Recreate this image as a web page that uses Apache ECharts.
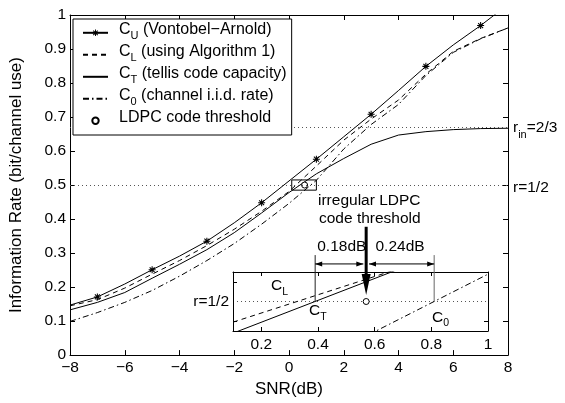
<!DOCTYPE html>
<html><head><meta charset="utf-8">
<script src="https://cdn.jsdelivr.net/npm/echarts@6/dist/echarts.min.js"></script>
<style>html,body{margin:0;padding:0;background:#fff}#c{width:565px;height:403px}</style>
</head><body><div id="c"></div>
<script>
// ---------------- data ----------------
const snrDb       = [-8, -7, -6, -5, -4, -3, -2, -1, 0, 1, 2, 3, 4, 5, 6, 7, 8];
const capUpper    = [0.147,0.171,0.209,0.251,0.291,0.335,0.389,0.448,0.512,0.576,0.642,0.708,0.778,0.849,0.912,0.969,1.031];
const capLower    = [0.145,0.163,0.197,0.238,0.278,0.322,0.370,0.423,0.481,0.556,0.632,0.694,0.750,0.826,0.893,0.931,0.962];
const capTrellis  = [0.133,0.155,0.184,0.226,0.267,0.310,0.360,0.418,0.478,0.533,0.578,0.620,0.647,0.657,0.663,0.666,0.667];
const capIid      = [0.099,0.125,0.155,0.190,0.232,0.278,0.328,0.385,0.446,0.514,0.606,0.678,0.737,0.822,0.890,0.930,0.962];
const markedSnr   = [-7, -5, -3, -1, 1, 3, 5, 7];
const ldpcPoint   = [[0.57, 0.5]];
const rateLevels  = [0.5, 2/3];
const insetXTicks = [0.2, 0.4, 0.6, 0.8, 1];
const insetYTicks = [0.49, 0.51];
const insetCL     = [[0.1, 0.4895], [0.66, 0.5155]];
const insetCT     = [[0.1, 0.4839], [0.67, 0.5156]];
const insetC0     = [[0.58, 0.4832], [1.0, 0.5139]];
const thrCT = 0.39, thrLDPC = 0.57, thrC0 = 0.81;
const zoomBox = [[0.1, 0.485], [1.0, 0.515]];

// annotation anchor values (inset coordinates)
const leaderTop = 0.5236, dimY = 0.5191, bigTop = 0.538, bigTip = 0.5033;

const FONT = '"Liberation Sans", Arial, Helvetica, sans-serif';
const FS = 15.5;
const star = 'path://M-1.5,-10L1.5,-10L1.5,10L-1.5,10Z M-10,-1.5L10,-1.5L10,1.5L-10,1.5Z M-6.01,-8.13L8.13,6.01L6.01,8.13L-8.13,-6.01Z M-8.13,6.01L6.01,-8.13L8.13,-6.01L-6.01,8.13Z';

const pairs = arr => snrDb.map((x, i) => [x, arr[i]]);
const minus = v => (v < 0 ? '\u2212' + (-v) : String(v));

const legendNames = {
  CU: '{m|C}{s|U}{m| (Vontobel\u2212Arnold)}',
  CL: '{m|C}{s|L}{m| (using Algorithm 1)}',
  CT: '{m|C}{s|T}{m| (tellis code capacity)}',
  C0: '{m|C}{s|0}{m| (channel i.i.d. rate)}',
  LDPC: '{m|LDPC code threshold}'
};

const chart = echarts.init(document.getElementById('c'), null, {renderer: 'canvas'});

const black = '#000';
const mainX = (pos, show) => ({
  type: 'value', gridIndex: 0, position: pos, min: -8, max: 8, interval: 2,
  axisLine: {show: true, onZero: false, lineStyle: {color: black, width: 1}},
  axisTick: {show: true, inside: true, length: 5, lineStyle: {color: black}},
  axisLabel: {show: show, formatter: minus, color: black, fontSize: FS, fontFamily: FONT, margin: 5},
  splitLine: {show: false}
});
const mainY = (pos, show) => ({
  type: 'value', gridIndex: 0, position: pos, min: 0, max: 1, interval: 0.1,
  axisLine: {show: true, onZero: false, lineStyle: {color: black, width: 1}},
  axisTick: {show: true, inside: true, length: 5, lineStyle: {color: black}},
  axisLabel: {show: show, color: black, fontSize: FS, fontFamily: FONT, margin: 4},
  splitLine: {show: false}
});
const insetX = (pos, show) => ({
  type: 'value', gridIndex: 1, position: pos, min: 0.1, max: 1, z: 6,
  axisLine: {show: true, onZero: false, lineStyle: {color: black, width: 1}},
  axisTick: {show: true, inside: true, length: 4, customValues: insetXTicks, lineStyle: {color: black}},
  axisLabel: {show: show, customValues: insetXTicks, color: black, fontSize: FS, fontFamily: FONT, margin: 6},
  splitLine: {show: false}
});
const insetY = (pos, show) => ({
  type: 'value', gridIndex: 1, position: pos, min: 0.485, max: 0.515, z: 6,
  axisLine: {show: true, onZero: false, lineStyle: {color: black, width: 1}},
  axisTick: {show: true, inside: true, length: 4, customValues: insetYTicks, lineStyle: {color: black}},
  axisLabel: {show: show, customValues: [0.5], formatter: () => 'r=1/2', color: black, fontSize: FS, fontFamily: FONT, margin: 4},
  splitLine: {show: false}
});

const xMain = mainX('bottom', true);
Object.assign(xMain, {name: 'SNR(dB)', nameLocation: 'middle', nameGap: 25,
  nameTextStyle: {fontSize: 17, color: black, fontFamily: FONT}});
const yMain = mainY('left', true);
Object.assign(yMain, {name: 'Information Rate (bit/channel use)', nameLocation: 'middle', nameGap: 45,
  nameTextStyle: {fontSize: 17, color: black, fontFamily: FONT}});
const yRight = mainY('right', true);
yRight.axisLabel = {
  show: true, customValues: rateLevels, margin: 5,
  formatter: v => Math.abs(v - 0.5) < 1e-6 ? '{a|r=1/2}' : '{n|r}{s|in}{n|=2/3}',
  rich: {
    a: {fontSize: FS, fontFamily: FONT, color: black, lineHeight: 24, padding: [5, 0, 0, 0]},
    n: {fontSize: FS, fontFamily: FONT, color: black, lineHeight: 24, padding: [0, 0, 2, 0]},
    s: {fontSize: 11, fontFamily: FONT, color: black, lineHeight: 24, padding: [14, 0, 0, 0]}
  }
};

function head(tip, dir, len, half) {
  const nx = -dir[1], ny = dir[0];
  const bx = tip[0] - dir[0] * len, by = tip[1] - dir[1] * len;
  return {type: 'polygon', shape: {points: [tip, [bx + nx * half, by + ny * half], [bx - nx * half, by - ny * half]]},
    style: {fill: black}};
}

function renderAnnotations(params, api) {
  const P = p => api.coord(p);
  const kids = [];
  const seg = (a, b, color, w) => kids.push({type: 'line', shape: {x1: a[0], y1: a[1], x2: b[0], y2: b[1]},
    style: {stroke: color, lineWidth: w}});
  // leader lines
  seg(P([thrCT, 0.5]), P([thrCT, leaderTop]), '#222', 1);
  seg(P([thrC0, 0.5]), P([thrC0, leaderTop]), '#666', 1);
  // dimension arrows
  const dim = (a, b) => {
    const p1 = P([a, dimY]), p2 = P([b, dimY]);
    seg(p1, p2, black, 1);
    kids.push(head(p1, [-1, 0], 7, 2.5));
    kids.push(head(p2, [1, 0], 7, 2.5));
  };
  dim(thrCT, thrLDPC - 0.01);
  dim(thrLDPC + 0.01, thrC0);
  // big arrow
  const t = P([thrLDPC, bigTop]), tip = P([thrLDPC, bigTip]);
  seg(t, [tip[0], tip[1] - 18], black, 3);
  kids.push(head(tip, [0, 1], 21, 4.5));
  // texts
  const txt = (s, p, align) => kids.push({type: 'text', x: p[0], y: p[1],
    style: {text: s, fontSize: FS, fontFamily: FONT, fill: black, align: align, verticalAlign: 'middle'}});
  txt('irregular LDPC', P([0.40, 0.5511]), 'left');
  txt('code threshold', P([0.4035, 0.5419]), 'left');
  txt('0.18dB', P([0.484, 0.5277]), 'center');
  txt('0.24dB', P([0.6895, 0.5277]), 'center');
  const rich = {
    m: {fontSize: FS, fontFamily: FONT, fill: black, lineHeight: 20},
    s: {fontSize: 10.5, fontFamily: FONT, fill: black, lineHeight: 20, padding: [12, 0, 0, 0]}
  };
  const sub = (s, p) => kids.push({type: 'text', x: p[0] - 5.6, y: p[1],
    style: {text: s, rich: rich, align: 'left', verticalAlign: 'middle', fill: black, fontFamily: FONT, fontSize: FS}});
  sub('{m|C}{s|L}', P([0.254, 0.508]));
  sub('{m|C}{s|T}', P([0.388, 0.4953]));
  sub('{m|C}{s|0}', P([0.822, 0.492]));
  return {type: 'group', children: kids};
}

const option = {
  animation: false,
  backgroundColor: '#fff',
  grid: [
    {left: 69, right: 57, top: 15, bottom: 42, show: false},
    {left: 233, width: 255, top: 272, height: 59, show: true, backgroundColor: '#fff', borderWidth: 0, z: 3}
  ],
  legend: {
    orient: 'vertical', left: 73, top: 19, itemWidth: 25, itemHeight: 8, itemGap: 0,
    padding: [2.8, 5, 3.2, 9], borderColor: black, borderWidth: 1, backgroundColor: '#fff',
    selectedMode: false, z: 8,
    data: [
      {name: 'CU'},
      {name: 'CL', itemStyle: {opacity: 0}},
      {name: 'CT', itemStyle: {opacity: 0}},
      {name: 'C0', itemStyle: {opacity: 0}},
      {name: 'LDPC'}
    ],
    formatter: n => legendNames[n],
    textStyle: {
      rich: {
        m: {fontSize: 16, fontFamily: FONT, color: black, lineHeight: 20, padding: [0, 0, 6, 0]},
        s: {fontSize: 11, fontFamily: FONT, color: black, lineHeight: 20, padding: [6, 0, 0, 0]}
      },
      padding: [0, 0, 0, 6]
    }
  },
  xAxis: [xMain, mainX('top', false), insetX('bottom', true), insetX('top', false)],
  yAxis: [yMain, yRight, insetY('left', true), insetY('right', false)],
  series: [
    {name: 'CU', type: 'line', xAxisIndex: 0, yAxisIndex: 0, symbol: star, symbolSize: 7, showAllSymbol: true,
      data: snrDb.map((x, i) => markedSnr.includes(x) ? {value: [x, capUpper[i]]} : {value: [x, capUpper[i]], symbol: 'none'}),
      lineStyle: {color: black, width: 1}, itemStyle: {color: black}},
    {name: 'CL', type: 'line', xAxisIndex: 0, yAxisIndex: 0, symbol: 'none', data: pairs(capLower),
      lineStyle: {color: black, width: 1, type: [5, 4]}, itemStyle: {color: black}},
    {name: 'CT', type: 'line', xAxisIndex: 0, yAxisIndex: 0, symbol: 'none', data: pairs(capTrellis),
      lineStyle: {color: black, width: 1}, itemStyle: {color: black}},
    {name: 'C0', type: 'line', xAxisIndex: 0, yAxisIndex: 0, symbol: 'none', data: pairs(capIid),
      lineStyle: {color: black, width: 1, type: [6, 3, 1.5, 3]}, itemStyle: {color: black}},
    {name: 'LDPC', type: 'line', xAxisIndex: 0, yAxisIndex: 0, symbol: 'circle', symbolSize: 6, data: ldpcPoint,
      lineStyle: {width: 0}, itemStyle: {color: '#fff', borderColor: black, borderWidth: 1},
      markLine: {silent: true, symbol: ['none', 'none'], label: {show: false},
        lineStyle: {color: '#555', width: 1, type: [1, 3]}, data: rateLevels.map(v => ({yAxis: v}))},
      markArea: {silent: true, itemStyle: {color: 'rgba(0,0,0,0)', borderColor: black, borderWidth: 1},
        data: [[{coord: zoomBox[0]}, {coord: zoomBox[1]}]]}},
    // inset
    {name: 'inCL', type: 'line', xAxisIndex: 2, yAxisIndex: 2, z: 5, symbol: 'none', data: insetCL,
      lineStyle: {color: black, width: 1, type: [5, 4]}},
    {name: 'inCT', type: 'line', xAxisIndex: 2, yAxisIndex: 2, z: 5, symbol: 'none', data: insetCT,
      lineStyle: {color: black, width: 1}},
    {name: 'inC0', type: 'line', xAxisIndex: 2, yAxisIndex: 2, z: 5, symbol: 'none', data: insetC0,
      lineStyle: {color: black, width: 1, type: [6, 3, 1.5, 3]}},
    {name: 'inLDPC', type: 'line', xAxisIndex: 2, yAxisIndex: 2, z: 5, symbol: 'circle', symbolSize: 6,
      data: [[thrLDPC, 0.5]], lineStyle: {width: 0}, itemStyle: {color: '#fff', borderColor: black, borderWidth: 1},
      markLine: {silent: true, symbol: ['none', 'none'], label: {show: false},
        lineStyle: {color: '#555', width: 1, type: [1, 3]}, data: [{yAxis: 0.5}]}},
    {name: 'annot', type: 'custom', xAxisIndex: 2, yAxisIndex: 2, z: 7, data: [[thrLDPC, 0.5]],
      renderItem: renderAnnotations, silent: true}
  ]
};
chart.setOption(option);
</script>
</body></html>
